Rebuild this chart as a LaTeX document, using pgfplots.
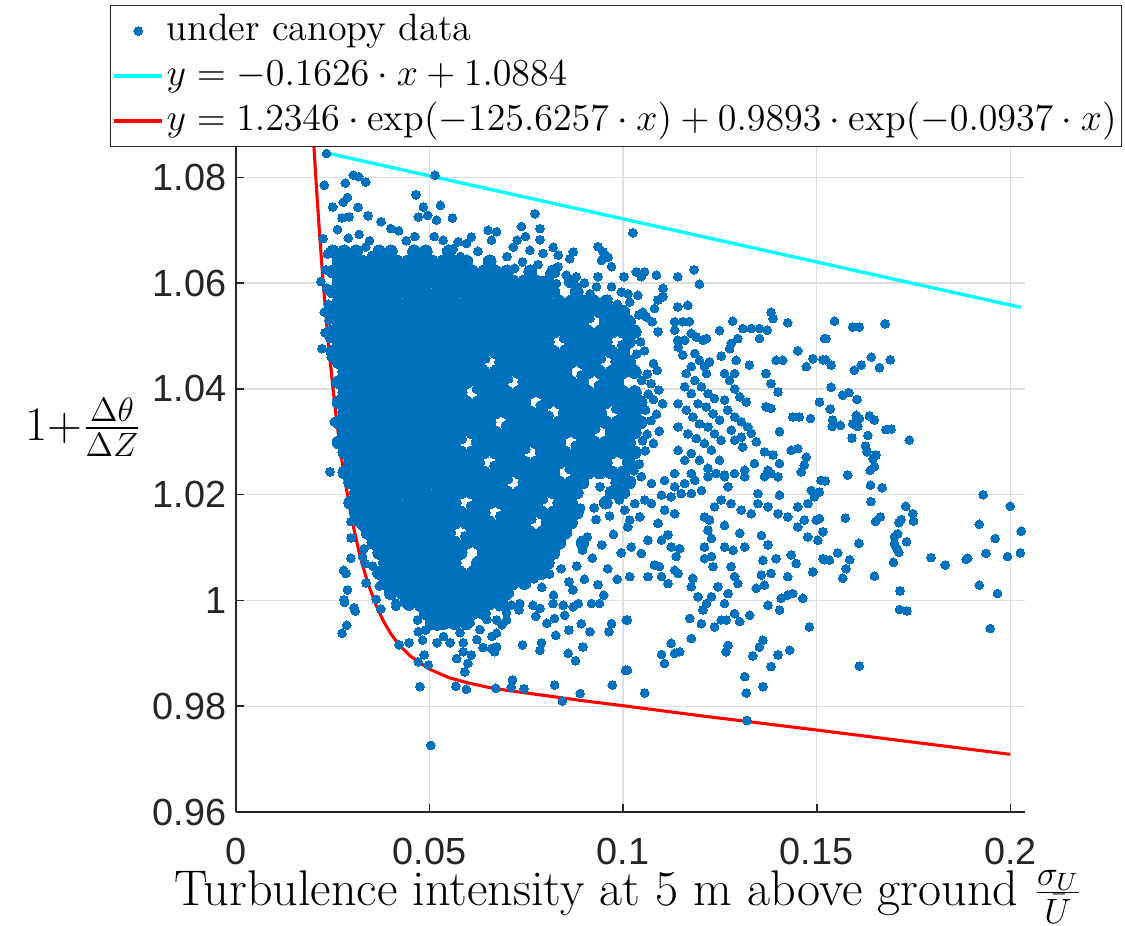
\RequirePackage{fix-cm}
\documentclass[border=0pt]{standalone}
\usepackage{fontspec}
\usepackage{pgfplots}
\usepackage{pgfplotstable}
\pgfplotsset{compat=1.18}
\newfontfamily\ticksf{Liberation Sans}
\definecolor{mblue}{HTML}{0072BD}
\definecolor{mcyan}{HTML}{00FFFF}
\definecolor{mred}{HTML}{FF0000}
\definecolor{axgray}{HTML}{262626}
\definecolor{gridgray}{HTML}{DFDFDF}

% dense core of the cloud (overlapping markers)
\pgfplotstableread{
x y
0.025 1.066
0.028 1.066
0.031 1.066
0.037 1.066
0.040 1.066
0.046 1.066
0.049 1.066
0.055 1.066
0.0265 1.0641
0.0295 1.0641
0.0325 1.0641
0.0355 1.0641
0.0385 1.0641
0.0415 1.0641
0.0445 1.0641
0.0475 1.0641
0.0505 1.0641
0.0535 1.0641
0.0565 1.0641
0.0595 1.0641
0.0655 1.0641
0.025 1.0622
0.028 1.0622
0.031 1.0622
0.034 1.0622
0.037 1.0622
0.040 1.0622
0.043 1.0622
0.046 1.0622
0.049 1.0622
0.052 1.0622
0.055 1.0622
0.058 1.0622
0.061 1.0622
0.064 1.0622
0.067 1.0622
0.070 1.0622
0.076 1.0622
0.082 1.0622
0.0265 1.0603
0.0295 1.0603
0.0325 1.0603
0.0355 1.0603
0.0385 1.0603
0.0415 1.0603
0.0445 1.0603
0.0475 1.0603
0.0505 1.0603
0.0535 1.0603
0.0565 1.0603
0.0595 1.0603
0.0625 1.0603
0.0655 1.0603
0.0685 1.0603
0.0715 1.0603
0.0745 1.0603
0.0775 1.0603
0.0805 1.0603
0.0865 1.0603
0.025 1.0584
0.028 1.0584
0.031 1.0584
0.034 1.0584
0.037 1.0584
0.040 1.0584
0.043 1.0584
0.046 1.0584
0.049 1.0584
0.052 1.0584
0.055 1.0584
0.058 1.0584
0.061 1.0584
0.064 1.0584
0.067 1.0584
0.070 1.0584
0.073 1.0584
0.076 1.0584
0.079 1.0584
0.082 1.0584
0.088 1.0584
0.0265 1.0565
0.0295 1.0565
0.0325 1.0565
0.0355 1.0565
0.0385 1.0565
0.0415 1.0565
0.0445 1.0565
0.0475 1.0565
0.0505 1.0565
0.0535 1.0565
0.0565 1.0565
0.0595 1.0565
0.0625 1.0565
0.0655 1.0565
0.0685 1.0565
0.0715 1.0565
0.0745 1.0565
0.0775 1.0565
0.0805 1.0565
0.0835 1.0565
0.0865 1.0565
0.0895 1.0565
0.0925 1.0565
0.0955 1.0565
0.025 1.0546
0.028 1.0546
0.031 1.0546
0.034 1.0546
0.037 1.0546
0.040 1.0546
0.043 1.0546
0.046 1.0546
0.049 1.0546
0.052 1.0546
0.055 1.0546
0.058 1.0546
0.061 1.0546
0.064 1.0546
0.067 1.0546
0.070 1.0546
0.073 1.0546
0.076 1.0546
0.079 1.0546
0.082 1.0546
0.085 1.0546
0.088 1.0546
0.091 1.0546
0.094 1.0546
0.097 1.0546
0.100 1.0546
0.0265 1.0527
0.0295 1.0527
0.0325 1.0527
0.0355 1.0527
0.0385 1.0527
0.0415 1.0527
0.0445 1.0527
0.0475 1.0527
0.0505 1.0527
0.0535 1.0527
0.0565 1.0527
0.0595 1.0527
0.0625 1.0527
0.0655 1.0527
0.0685 1.0527
0.0715 1.0527
0.0745 1.0527
0.0775 1.0527
0.0805 1.0527
0.0835 1.0527
0.0865 1.0527
0.0895 1.0527
0.0955 1.0527
0.0985 1.0527
0.1015 1.0527
0.025 1.0508
0.028 1.0508
0.031 1.0508
0.034 1.0508
0.037 1.0508
0.040 1.0508
0.043 1.0508
0.046 1.0508
0.049 1.0508
0.052 1.0508
0.055 1.0508
0.058 1.0508
0.061 1.0508
0.064 1.0508
0.067 1.0508
0.070 1.0508
0.073 1.0508
0.076 1.0508
0.079 1.0508
0.082 1.0508
0.085 1.0508
0.088 1.0508
0.091 1.0508
0.094 1.0508
0.097 1.0508
0.100 1.0508
0.103 1.0508
0.0265 1.0489
0.0295 1.0489
0.0325 1.0489
0.0355 1.0489
0.0385 1.0489
0.0415 1.0489
0.0445 1.0489
0.0475 1.0489
0.0505 1.0489
0.0535 1.0489
0.0565 1.0489
0.0595 1.0489
0.0625 1.0489
0.0655 1.0489
0.0685 1.0489
0.0715 1.0489
0.0745 1.0489
0.0775 1.0489
0.0805 1.0489
0.0865 1.0489
0.0895 1.0489
0.0925 1.0489
0.0955 1.0489
0.1015 1.0489
0.025 1.047
0.028 1.047
0.031 1.047
0.034 1.047
0.037 1.047
0.040 1.047
0.043 1.047
0.046 1.047
0.049 1.047
0.052 1.047
0.055 1.047
0.058 1.047
0.061 1.047
0.064 1.047
0.067 1.047
0.070 1.047
0.073 1.047
0.076 1.047
0.079 1.047
0.082 1.047
0.085 1.047
0.088 1.047
0.091 1.047
0.094 1.047
0.097 1.047
0.100 1.047
0.0265 1.0451
0.0295 1.0451
0.0325 1.0451
0.0355 1.0451
0.0385 1.0451
0.0415 1.0451
0.0445 1.0451
0.0475 1.0451
0.0505 1.0451
0.0535 1.0451
0.0565 1.0451
0.0595 1.0451
0.0625 1.0451
0.0685 1.0451
0.0715 1.0451
0.0745 1.0451
0.0775 1.0451
0.0805 1.0451
0.0835 1.0451
0.0865 1.0451
0.0895 1.0451
0.0925 1.0451
0.0985 1.0451
0.1015 1.0451
0.028 1.0432
0.031 1.0432
0.034 1.0432
0.037 1.0432
0.040 1.0432
0.043 1.0432
0.046 1.0432
0.049 1.0432
0.052 1.0432
0.055 1.0432
0.058 1.0432
0.061 1.0432
0.064 1.0432
0.067 1.0432
0.070 1.0432
0.073 1.0432
0.076 1.0432
0.079 1.0432
0.082 1.0432
0.085 1.0432
0.091 1.0432
0.094 1.0432
0.097 1.0432
0.100 1.0432
0.103 1.0432
0.0265 1.0413
0.0295 1.0413
0.0325 1.0413
0.0355 1.0413
0.0385 1.0413
0.0415 1.0413
0.0445 1.0413
0.0475 1.0413
0.0505 1.0413
0.0535 1.0413
0.0565 1.0413
0.0595 1.0413
0.0625 1.0413
0.0655 1.0413
0.0685 1.0413
0.0745 1.0413
0.0775 1.0413
0.0805 1.0413
0.0835 1.0413
0.0865 1.0413
0.0895 1.0413
0.0955 1.0413
0.0985 1.0413
0.028 1.0394
0.031 1.0394
0.034 1.0394
0.037 1.0394
0.040 1.0394
0.043 1.0394
0.046 1.0394
0.049 1.0394
0.052 1.0394
0.055 1.0394
0.058 1.0394
0.064 1.0394
0.067 1.0394
0.070 1.0394
0.073 1.0394
0.076 1.0394
0.079 1.0394
0.082 1.0394
0.085 1.0394
0.088 1.0394
0.091 1.0394
0.094 1.0394
0.097 1.0394
0.100 1.0394
0.103 1.0394
0.0265 1.0375
0.0295 1.0375
0.0325 1.0375
0.0355 1.0375
0.0385 1.0375
0.0415 1.0375
0.0445 1.0375
0.0475 1.0375
0.0505 1.0375
0.0535 1.0375
0.0565 1.0375
0.0595 1.0375
0.0625 1.0375
0.0655 1.0375
0.0685 1.0375
0.0715 1.0375
0.0745 1.0375
0.0805 1.0375
0.0835 1.0375
0.0865 1.0375
0.0895 1.0375
0.0925 1.0375
0.0955 1.0375
0.0985 1.0375
0.1015 1.0375
0.1045 1.0375
0.028 1.0356
0.031 1.0356
0.034 1.0356
0.037 1.0356
0.040 1.0356
0.043 1.0356
0.046 1.0356
0.049 1.0356
0.052 1.0356
0.055 1.0356
0.058 1.0356
0.061 1.0356
0.064 1.0356
0.067 1.0356
0.070 1.0356
0.073 1.0356
0.076 1.0356
0.079 1.0356
0.085 1.0356
0.088 1.0356
0.091 1.0356
0.094 1.0356
0.100 1.0356
0.103 1.0356
0.0265 1.0337
0.0295 1.0337
0.0325 1.0337
0.0355 1.0337
0.0385 1.0337
0.0415 1.0337
0.0445 1.0337
0.0475 1.0337
0.0505 1.0337
0.0535 1.0337
0.0565 1.0337
0.0595 1.0337
0.0625 1.0337
0.0655 1.0337
0.0715 1.0337
0.0745 1.0337
0.0775 1.0337
0.0805 1.0337
0.0835 1.0337
0.0865 1.0337
0.0895 1.0337
0.0925 1.0337
0.0955 1.0337
0.0985 1.0337
0.1015 1.0337
0.1045 1.0337
0.028 1.0318
0.031 1.0318
0.034 1.0318
0.037 1.0318
0.040 1.0318
0.043 1.0318
0.046 1.0318
0.049 1.0318
0.052 1.0318
0.055 1.0318
0.058 1.0318
0.061 1.0318
0.064 1.0318
0.067 1.0318
0.070 1.0318
0.073 1.0318
0.076 1.0318
0.079 1.0318
0.082 1.0318
0.085 1.0318
0.088 1.0318
0.091 1.0318
0.097 1.0318
0.100 1.0318
0.103 1.0318
0.0265 1.0299
0.0295 1.0299
0.0325 1.0299
0.0355 1.0299
0.0385 1.0299
0.0415 1.0299
0.0445 1.0299
0.0475 1.0299
0.0505 1.0299
0.0535 1.0299
0.0565 1.0299
0.0625 1.0299
0.0655 1.0299
0.0685 1.0299
0.0715 1.0299
0.0745 1.0299
0.0775 1.0299
0.0805 1.0299
0.0835 1.0299
0.0895 1.0299
0.0925 1.0299
0.0955 1.0299
0.0985 1.0299
0.1015 1.0299
0.028 1.028
0.031 1.028
0.034 1.028
0.037 1.028
0.040 1.028
0.043 1.028
0.046 1.028
0.049 1.028
0.052 1.028
0.055 1.028
0.058 1.028
0.061 1.028
0.064 1.028
0.067 1.028
0.070 1.028
0.073 1.028
0.079 1.028
0.082 1.028
0.085 1.028
0.088 1.028
0.091 1.028
0.094 1.028
0.097 1.028
0.100 1.028
0.103 1.028
0.0295 1.0261
0.0325 1.0261
0.0355 1.0261
0.0385 1.0261
0.0415 1.0261
0.0445 1.0261
0.0475 1.0261
0.0505 1.0261
0.0535 1.0261
0.0565 1.0261
0.0595 1.0261
0.0625 1.0261
0.0685 1.0261
0.0715 1.0261
0.0745 1.0261
0.0775 1.0261
0.0805 1.0261
0.0835 1.0261
0.0865 1.0261
0.0895 1.0261
0.0925 1.0261
0.0955 1.0261
0.1015 1.0261
0.028 1.0242
0.031 1.0242
0.034 1.0242
0.037 1.0242
0.040 1.0242
0.043 1.0242
0.046 1.0242
0.049 1.0242
0.052 1.0242
0.055 1.0242
0.058 1.0242
0.061 1.0242
0.064 1.0242
0.067 1.0242
0.070 1.0242
0.073 1.0242
0.076 1.0242
0.079 1.0242
0.082 1.0242
0.088 1.0242
0.091 1.0242
0.094 1.0242
0.097 1.0242
0.100 1.0242
0.0295 1.0223
0.0325 1.0223
0.0355 1.0223
0.0385 1.0223
0.0415 1.0223
0.0445 1.0223
0.0475 1.0223
0.0505 1.0223
0.0535 1.0223
0.0565 1.0223
0.0595 1.0223
0.0625 1.0223
0.0655 1.0223
0.0685 1.0223
0.0745 1.0223
0.0775 1.0223
0.0805 1.0223
0.0835 1.0223
0.0865 1.0223
0.0895 1.0223
0.0985 1.0223
0.1015 1.0223
0.031 1.0204
0.034 1.0204
0.037 1.0204
0.040 1.0204
0.043 1.0204
0.046 1.0204
0.049 1.0204
0.052 1.0204
0.055 1.0204
0.058 1.0204
0.061 1.0204
0.064 1.0204
0.067 1.0204
0.070 1.0204
0.073 1.0204
0.076 1.0204
0.079 1.0204
0.082 1.0204
0.085 1.0204
0.088 1.0204
0.097 1.0204
0.100 1.0204
0.0295 1.0185
0.0325 1.0185
0.0355 1.0185
0.0385 1.0185
0.0415 1.0185
0.0445 1.0185
0.0475 1.0185
0.0505 1.0185
0.0535 1.0185
0.0565 1.0185
0.0625 1.0185
0.0655 1.0185
0.0685 1.0185
0.0715 1.0185
0.0745 1.0185
0.0775 1.0185
0.0835 1.0185
0.0865 1.0185
0.0955 1.0185
0.031 1.0166
0.034 1.0166
0.037 1.0166
0.040 1.0166
0.043 1.0166
0.046 1.0166
0.049 1.0166
0.052 1.0166
0.055 1.0166
0.058 1.0166
0.061 1.0166
0.064 1.0166
0.070 1.0166
0.073 1.0166
0.076 1.0166
0.079 1.0166
0.082 1.0166
0.085 1.0166
0.088 1.0166
0.0325 1.0147
0.0355 1.0147
0.0385 1.0147
0.0415 1.0147
0.0445 1.0147
0.0475 1.0147
0.0505 1.0147
0.0535 1.0147
0.0565 1.0147
0.0595 1.0147
0.0625 1.0147
0.0655 1.0147
0.0685 1.0147
0.0715 1.0147
0.0745 1.0147
0.0805 1.0147
0.0835 1.0147
0.0865 1.0147
0.034 1.0128
0.037 1.0128
0.040 1.0128
0.043 1.0128
0.046 1.0128
0.049 1.0128
0.052 1.0128
0.055 1.0128
0.061 1.0128
0.064 1.0128
0.067 1.0128
0.070 1.0128
0.073 1.0128
0.076 1.0128
0.079 1.0128
0.082 1.0128
0.085 1.0128
0.0355 1.0109
0.0385 1.0109
0.0415 1.0109
0.0445 1.0109
0.0475 1.0109
0.0505 1.0109
0.0535 1.0109
0.0565 1.0109
0.0595 1.0109
0.0625 1.0109
0.0655 1.0109
0.0685 1.0109
0.0715 1.0109
0.0745 1.0109
0.0775 1.0109
0.0805 1.0109
0.0835 1.0109
0.0895 1.0109
0.037 1.009
0.040 1.009
0.043 1.009
0.046 1.009
0.049 1.009
0.052 1.009
0.055 1.009
0.058 1.009
0.064 1.009
0.067 1.009
0.070 1.009
0.073 1.009
0.076 1.009
0.079 1.009
0.082 1.009
0.0385 1.0071
0.0415 1.0071
0.0445 1.0071
0.0475 1.0071
0.0505 1.0071
0.0535 1.0071
0.0565 1.0071
0.0625 1.0071
0.0655 1.0071
0.0685 1.0071
0.0715 1.0071
0.0745 1.0071
0.0775 1.0071
0.0805 1.0071
0.037 1.0052
0.040 1.0052
0.043 1.0052
0.046 1.0052
0.049 1.0052
0.052 1.0052
0.055 1.0052
0.058 1.0052
0.061 1.0052
0.064 1.0052
0.067 1.0052
0.070 1.0052
0.073 1.0052
0.076 1.0052
0.079 1.0052
0.0385 1.0033
0.0415 1.0033
0.0445 1.0033
0.0475 1.0033
0.0505 1.0033
0.0535 1.0033
0.0565 1.0033
0.0595 1.0033
0.0625 1.0033
0.0655 1.0033
0.0685 1.0033
0.0715 1.0033
0.0745 1.0033
0.040 1.0014
0.043 1.0014
0.046 1.0014
0.049 1.0014
0.052 1.0014
0.055 1.0014
0.058 1.0014
0.061 1.0014
0.064 1.0014
0.067 1.0014
0.070 1.0014
0.0445 0.9995
0.0475 0.9995
0.0505 0.9995
0.0535 0.9995
0.0565 0.9995
0.0595 0.9995
0.0625 0.9995
0.0655 0.9995
0.0685 0.9995
0.049 0.9976
0.052 0.9976
0.055 0.9976
0.058 0.9976
0.061 0.9976
0.064 0.9976
0.0505 0.9957
0.0535 0.9957
0.0565 0.9957
0.0595 0.9957
}\densetab

% scattered points around the core
\pgfplotstableread{
x y
0.0846 1.0495
0.0645 1.0457
0.0891 1.0426
0.0704 1.0419
0.0936 1.0407
0.0621 1.0400
0.0809 1.0350
0.0981 1.0362
0.0696 1.0331
0.0584 1.0305
0.0876 1.0293
0.0749 1.0286
0.0666 1.0255
0.0861 1.0248
0.0704 1.0229
0.0606 1.0179
0.0794 1.0191
0.0681 1.0160
0.0764 1.0153
0.0591 1.0122
0.0786 1.0369
0.0929 1.0324
0.0944 1.0457
0.0914 1.0533
0.0996 1.0483
0.0234 1.0845
0.0228 1.0785
0.0282 1.0789
0.0303 1.0804
0.0317 1.0801
0.0335 1.0791
0.0277 1.0753
0.0288 1.0762
0.0250 1.0744
0.0315 1.0743
0.0274 1.0723
0.0292 1.0725
0.0341 1.0727
0.0375 1.0716
0.0262 1.0701
0.0225 1.0684
0.0400 1.0703
0.0420 1.0699
0.0465 1.0767
0.0484 1.0744
0.0471 1.0725
0.0495 1.0728
0.0219 1.0603
0.0228 1.0545
0.0230 1.0506
0.0241 1.0511
0.0222 1.0476
0.0290 1.0685
0.0318 1.0692
0.0345 1.0680
0.0335 1.0668
0.0350 1.0652
0.0440 1.0680
0.0462 1.0688
0.0512 1.0688
0.0236 1.0655
0.0232 1.0625
0.0234 1.0590
0.0238 1.0560
0.0240 1.0530
0.0243 1.0495
0.0246 1.0460
0.0254 1.0338
0.0243 1.0243
0.0297 1.0149
0.0317 1.0151
0.0297 1.0118
0.0331 1.0098
0.0297 1.0080
0.0278 1.0057
0.0284 1.0051
0.0334 1.0070
0.0288 1.0020
0.0279 1.0001
0.0305 0.9986
0.0280 0.9996
0.0308 0.9980
0.0286 0.9953
0.0274 0.9938
0.0374 0.9984
0.0413 0.9989
0.0434 0.9997
0.0421 0.9916
0.0447 0.9920
0.0473 0.9988
0.0469 0.9963
0.0471 0.9941
0.0482 0.9925
0.0490 0.9944
0.0486 0.9897
0.0471 0.9884
0.0497 0.9878
0.0475 0.9837
0.0503 0.9726
0.0327 1.0140
0.0340 1.0165
0.0362 1.0159
0.0353 1.0121
0.0379 1.0109
0.0327 1.0083
0.0353 1.0065
0.0379 1.0052
0.0405 1.0058
0.0336 1.0033
0.0370 1.0027
0.0396 1.0014
0.0431 1.0021
0.0362 1.0002
0.0413 0.9995
0.0448 0.9989
0.0474 1.0002
0.0570 0.9890
0.0587 0.9903
0.0599 0.9881
0.0591 0.9865
0.0608 0.9897
0.0568 0.9838
0.0595 0.9832
0.0671 0.9834
0.0714 0.9850
0.0711 0.9836
0.0744 0.9833
0.0823 0.9840
0.0843 0.9810
0.0889 0.9824
0.0972 0.9840
0.1006 0.9868
0.0638 0.9911
0.0660 0.9909
0.0673 0.9912
0.0668 0.9903
0.0740 0.9916
0.0785 0.9906
0.0789 0.9920
0.0858 0.9900
0.0877 0.9886
0.0896 0.9912
0.0826 0.9934
0.0860 0.9944
0.0892 0.9956
0.0914 0.9941
0.0963 0.9941
0.0970 0.9956
0.1008 0.9963
0.0803 0.9957
0.0774 0.9970
0.0823 0.9966
0.0849 0.9972
0.0731 0.9982
0.0767 0.9991
0.0785 0.9985
0.0819 0.9994
0.0845 0.9991
0.0871 0.9988
0.0884 0.9994
0.0918 0.9994
0.0939 0.9994
0.0673 0.9938
0.0673 0.9963
0.0699 0.9963
0.0681 0.9988
0.0711 0.9991
0.0733 0.9994
0.0519 0.9951
0.0553 0.9958
0.0536 0.9932
0.0579 0.9939
0.0605 0.9958
0.0630 0.9945
0.0648 0.9964
0.0622 0.9926
0.0587 0.9920
0.0553 0.9920
0.0519 0.9920
0.0661 0.9932
0.0687 0.9954
0.0699 0.9977
0.0514 1.0804
0.0528 1.0747
0.0518 1.0719
0.0559 1.0723
0.0772 1.0731
0.0737 1.0707
0.0651 1.0700
0.0673 1.0697
0.0660 1.0681
0.0785 1.0703
0.0785 1.0682
0.0726 1.0681
0.0748 1.0688
0.0716 1.0668
0.0608 1.0687
0.0595 1.0675
0.0574 1.0678
0.0561 1.0665
0.0535 1.0681
0.0759 1.0662
0.0793 1.0656
0.0819 1.0668
0.0832 1.0653
0.0871 1.0659
0.0862 1.0646
0.0935 1.0669
0.0948 1.0659
0.0961 1.0649
0.0944 1.0643
0.0970 1.0631
0.1002 1.0612
0.0879 1.0612
0.0935 1.0612
0.0931 1.0593
0.0970 1.0593
0.0995 1.0583
0.0832 1.0631
0.0810 1.0618
0.0853 1.0615
0.0828 1.0599
0.0879 1.0593
0.0793 1.0605
0.0580 1.0650
0.0625 1.0660
0.0700 1.0650
0.0740 1.0640
0.0720 1.0628
0.0780 1.0635
0.0900 1.0600
0.0915 1.0580
0.0960 1.0570
0.0985 1.0560
0.0907 1.0120
0.0930 1.0153
0.0895 1.0095
0.0920 1.0080
0.0945 1.0105
0.0960 1.0060
0.0985 1.0040
0.0900 1.0040
0.0870 1.0020
0.0950 1.0010
0.0975 1.0125
0.0995 1.0090
0.0925 1.0175
0.0965 1.0160
0.0890 1.0175
0.0860 1.0035
0.0820 1.0010
0.0790 1.0025
0.0770 1.0041
0.0810 1.0050
0.0840 1.0060
0.0880 1.0065
0.0935 1.0030
0.0990 1.0190
0.0940 1.0215
0.1075 1.0527
0.1090 1.0508
0.1045 1.0489
0.1055 1.0472
0.1035 1.0466
0.1078 1.0448
0.1088 1.0435
0.1062 1.0428
0.1072 1.0410
0.1048 1.0416
0.1092 1.0398
0.1065 1.0390
0.1102 1.0372
0.1078 1.0380
0.1086 1.0352
0.1058 1.0360
0.1072 1.0340
0.1093 1.0320
0.1062 1.0314
0.1078 1.0297
0.1050 1.0302
0.1057 1.0283
0.1042 1.0258
0.1028 1.0245
0.1020 1.0505
0.1040 1.0540
0.1015 1.0440
0.1030 1.0395
0.1025 1.0695
0.1034 1.0621
0.1055 1.0621
0.1047 1.0612
0.1086 1.0615
0.1141 1.0612
0.1183 1.0625
0.1197 1.0598
0.1012 1.0580
0.1038 1.0577
0.1017 1.0564
0.1103 1.0590
0.1103 1.0574
0.1090 1.0568
0.1081 1.0552
0.1141 1.0555
0.1167 1.0558
0.1051 1.0545
0.1060 1.0536
0.1382 1.0545
0.1387 1.0533
0.1425 1.0525
0.1283 1.0528
0.1249 1.0510
0.1309 1.0514
0.1331 1.0514
0.1352 1.0514
0.1372 1.0511
0.1352 1.0495
0.1296 1.0495
0.1279 1.0486
0.1275 1.0476
0.1253 1.0462
0.1133 1.0527
0.1154 1.0527
0.1171 1.0527
0.1133 1.0511
0.1141 1.0492
0.1159 1.0492
0.1176 1.0505
0.1189 1.0498
0.1206 1.0492
0.1215 1.0495
0.1185 1.0467
0.1197 1.0454
0.1210 1.0442
0.1223 1.0451
0.1215 1.0429
0.1292 1.0454
0.1326 1.0445
0.1288 1.0429
0.1369 1.0429
0.1395 1.0454
0.1412 1.0454
0.1473 1.0442
0.1490 1.0457
0.1451 1.0472
0.1520 1.0495
0.1516 1.0455
0.1382 1.0410
0.1400 1.0394
0.1369 1.0366
0.1382 1.0363
0.1404 1.0319
0.1438 1.0347
0.1455 1.0347
0.1484 1.0344
0.1507 1.0375
0.1262 1.0429
0.1275 1.0416
0.1288 1.0400
0.1301 1.0385
0.1318 1.0375
0.1262 1.0379
0.1270 1.0360
0.1288 1.0347
0.1305 1.0338
0.1322 1.0328
0.1331 1.0316
0.1305 1.0309
0.1279 1.0322
0.1288 1.0303
0.1309 1.0290
0.1344 1.0300
0.1365 1.0281
0.1387 1.0275
0.1404 1.0259
0.1434 1.0284
0.1451 1.0287
0.1473 1.0271
0.1468 1.0256
0.1374 1.0246
0.1339 1.0259
0.1314 1.0246
0.1142 1.0479
0.1154 1.0464
0.1176 1.0442
0.1163 1.0429
0.1185 1.0416
0.1202 1.0404
0.1219 1.0391
0.1236 1.0382
0.1159 1.0404
0.1176 1.0391
0.1193 1.0372
0.1215 1.0366
0.1232 1.0353
0.1249 1.0341
0.1142 1.0372
0.1163 1.0360
0.1180 1.0347
0.1197 1.0334
0.1219 1.0328
0.1236 1.0315
0.1253 1.0303
0.1142 1.0328
0.1167 1.0315
0.1189 1.0306
0.1210 1.0297
0.1228 1.0284
0.1249 1.0265
0.1176 1.0278
0.1197 1.0265
0.1219 1.0250
0.1142 1.0284
0.1159 1.0265
0.1133 1.0240
0.1176 1.0240
0.1240 1.0240
0.1262 1.0234
0.1021 1.0227
0.1047 1.0234
0.1073 1.0221
0.1107 1.0227
0.1133 1.0215
0.1159 1.0221
0.1185 1.0227
0.1202 1.0208
0.1219 1.0234
0.1099 1.0199
0.1124 1.0196
0.1150 1.0202
0.1176 1.0202
0.1056 1.0190
0.1030 1.0183
0.1004 1.0171
0.1017 1.0152
0.1043 1.0158
0.1073 1.0183
0.1262 1.0237
0.1288 1.0240
0.1314 1.0234
0.1271 1.0215
0.1253 1.0190
0.1236 1.0177
0.1279 1.0183
0.1305 1.0171
0.1331 1.0164
0.1348 1.0202
0.1365 1.0234
0.1382 1.0240
0.1400 1.0234
0.1404 1.0199
0.1348 1.0183
0.1374 1.0177
0.1400 1.0164
0.1425 1.0158
0.1451 1.0177
0.1460 1.0243
0.1486 1.0208
0.1477 1.0183
0.1494 1.0196
0.1511 1.0227
0.1468 1.0152
0.1499 1.0152
0.1451 1.0139
0.1477 1.0120
0.1503 1.0114
0.1012 1.0139
0.1021 1.0101
0.1047 1.0089
0.1064 1.0114
0.1090 1.0146
0.1107 1.0171
0.1133 1.0164
0.1116 1.0124
0.1124 1.0101
0.1099 1.0114
0.1081 1.0067
0.1094 1.0064
0.1146 1.0098
0.1137 1.0083
0.1133 1.0057
0.1142 1.0051
0.1099 1.0045
0.1116 1.0032
0.1064 1.0045
0.1017 1.0045
0.1210 1.0158
0.1223 1.0152
0.1219 1.0133
0.1228 1.0117
0.1210 1.0101
0.1228 1.0083
0.1232 1.0064
0.1210 1.0079
0.1262 1.0142
0.1262 1.0101
0.1284 1.0095
0.1301 1.0127
0.1314 1.0101
0.1357 1.0123
0.1374 1.0105
0.1361 1.0076
0.1382 1.0051
0.1357 1.0048
0.1365 1.0029
0.1344 1.0023
0.1279 1.0064
0.1288 1.0045
0.1296 1.0032
0.1271 1.0013
0.1245 1.0026
0.1262 0.9994
0.1228 1.0007
0.1215 0.9994
0.1206 0.9982
0.1193 1.0007
0.1176 1.0026
0.1180 1.0042
0.1172 0.9966
0.1202 0.9956
0.1236 0.9950
0.1253 0.9963
0.1266 0.9963
0.1288 0.9975
0.1301 0.9960
0.1327 0.9972
0.1374 0.9991
0.1404 0.9982
0.1408 1.0004
0.1425 1.0010
0.1438 1.0013
0.1464 1.0004
0.1395 1.0079
0.1425 1.0045
0.1434 1.0086
0.1447 1.0070
0.1490 1.0054
0.1481 0.9950
0.1516 1.0079
0.1124 0.9919
0.1099 0.9898
0.1107 0.9881
0.1133 0.9900
0.1146 0.9903
0.1176 0.9928
0.1271 0.9915
0.1266 0.9903
0.1335 0.9895
0.1352 0.9912
0.1361 0.9925
0.1400 0.9897
0.1430 0.9906
0.1382 0.9875
0.1314 0.9856
0.1318 0.9825
0.1361 0.9837
0.1056 0.9825
0.1011 0.9963
0.1011 0.9868
0.1320 0.9773
0.1546 1.0528
0.1524 1.0495
0.1593 1.0517
0.1610 1.0517
0.1677 1.0523
0.1523 1.0455
0.1537 1.0445
0.1597 1.0435
0.1615 1.0445
0.1641 1.0460
0.1662 1.0440
0.1690 1.0455
0.1537 1.0403
0.1567 1.0388
0.1583 1.0393
0.1604 1.0380
0.1535 1.0362
0.1541 1.0341
0.1540 1.0329
0.1561 1.0331
0.1593 1.0334
0.1602 1.0350
0.1610 1.0344
0.1606 1.0329
0.1636 1.0349
0.1649 1.0341
0.1591 1.0307
0.1632 1.0312
0.1679 1.0323
0.1692 1.0324
0.1739 1.0303
0.1626 1.0292
0.1630 1.0281
0.1645 1.0268
0.1653 1.0275
0.1638 1.0246
0.1649 1.0253
0.1580 1.0237
0.1522 1.0226
0.1639 1.0218
0.1669 1.0213
0.1507 1.0205
0.1640 1.0187
0.1730 1.0178
0.1748 1.0164
0.1750 1.0150
0.1507 1.0155
0.1574 1.0156
0.1652 1.0149
0.1664 1.0158
0.1712 1.0147
0.1718 1.0153
0.1516 1.0130
0.1701 1.0121
0.1709 1.0126
0.1732 1.0111
0.1701 1.0107
0.1707 1.0098
0.1712 1.0091
0.1609 1.0108
0.1554 1.0090
0.1520 1.0077
0.1533 1.0076
0.1585 1.0077
0.1576 1.0060
0.1567 1.0042
0.1649 1.0046
0.1698 1.0072
0.1715 1.0018
0.1714 0.9983
0.1733 0.9980
0.1610 0.9876
0.1795 1.0081
0.1832 1.0067
0.1886 1.0078
0.1890 1.0080
0.1920 1.0144
0.1930 1.0200
0.1961 1.0117
0.1937 1.0089
0.1993 1.0083
0.2000 1.0178
0.2028 1.0131
0.2026 1.0090
0.1920 1.0029
0.1967 1.0013
0.1948 0.9947
}\sparsetab

\begin{document}
\begin{tikzpicture}
\begin{axis}[
  scale only axis,
  width=280.6bp, height=237.2bp,
  xmin=0, xmax=0.2038, ymin=0.96, ymax=1.0861,
  axis x line*=bottom, axis y line*=left,
  axis line style={axgray, line width=0.55bp, -},
  every tick/.style={axgray, line width=0.55bp},
  tick align=inside, major tick length=3bp,
  xtick={0,0.05,0.1,0.15,0.2},
  ytick={0.96,0.98,1,1.02,1.04,1.06,1.08},
  scaled ticks=false,
  /pgf/number format/fixed,
  /pgf/number format/precision=2,
  /pgf/number format/assume math mode=true,
  tick label style={font=\ticksf\fontsize{13.5}{14}\selectfont, text=axgray},
  xticklabel style={yshift=-5.7bp},
  grid=major, major grid style={gridgray, line width=0.5bp},
  xlabel={Turbulence intensity at 5 m above ground $\frac{\sigma_U}{\bar{U}}$},
  xlabel style={at={(axis description cs:0.497,-0.14)}, anchor=base, font=\fontsize{17.9}{21}\selectfont},
  ylabel={$1{+}\frac{\Delta\theta}{\Delta Z}$},
  ylabel style={rotate=-90, at={(axis description cs:-0.2674,0.577)}, anchor=west, inner sep=0pt, font=\fontsize{17.2}{20}\selectfont},
  legend style={at={(-0.1597,1.2099)}, anchor=north west, draw=axgray, line width=0.5bp,
    inner xsep=0.7bp, inner ysep=1bp, font=\fontsize{13.6}{17}\selectfont,
    nodes={text height=10.3bp, text depth=3.7bp, inner ysep=1bp, inner xsep=1bp}},
  legend cell align=left,
]
\addplot[mblue, only marks, mark=*, mark size=2.3bp, mark options={fill=mblue, draw=mblue, line width=0bp}, forget plot] table {\densetab};
\addplot[mblue, only marks, mark=*, mark size=1.55bp, mark options={fill=mblue, draw=mblue, line width=0bp}] table {\sparsetab};
\addlegendentry{under canopy data}
\addplot[mcyan, line width=1.2bp] coordinates {(0.0234,1.0846) (0.2027,1.0554)};
\addlegendentry{\fontsize{13.58}{17}\selectfont $y=-0.1626\cdot x+1.0884$}
\addplot[mred, line width=1.1bp] coordinates {
(0.0198,1.0901) (0.0200,1.0876) (0.0205,1.0814) (0.0210,1.0756) (0.0215,1.0702)
(0.0220,1.0651) (0.0225,1.0603) (0.0230,1.0559) (0.0235,1.0516) (0.0240,1.0476)
(0.0250,1.0404) (0.0260,1.0340) (0.0270,1.0283) (0.0280,1.0233) (0.0300,1.0150)
(0.0320,1.0085) (0.0340,1.0034) (0.0360,0.9994) (0.0380,0.9962) (0.0400,0.9937)
(0.0420,0.9917) (0.0450,0.9895) (0.0500,0.9870) (0.0550,0.9854) (0.0600,0.9844)
(0.0650,0.9836) (0.0700,0.9830) (0.0800,0.9820) (0.0900,0.9810) (0.1000,0.9801)
(0.1200,0.9782) (0.1500,0.9755) (0.2000,0.9709)};
\addlegendentry{\fontsize{13.58}{17}\selectfont $y=1.2346\cdot\exp(-125.6257\cdot x)+0.9893\cdot\exp(-0.0937\cdot x)$}
\coordinate (bbsw) at (rel axis cs:-0.2991,-0.1709);
\coordinate (bbne) at (rel axis cs:1.1267,1.2174);
\end{axis}
\pgfresetboundingbox
\path[use as bounding box] (bbsw) rectangle (bbne);
\end{tikzpicture}
\end{document}
